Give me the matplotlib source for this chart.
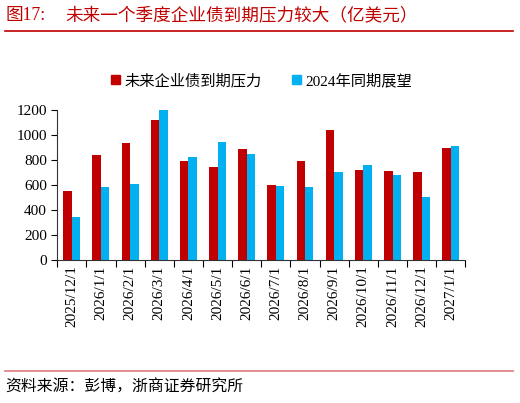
import matplotlib
matplotlib.use("Agg")
import matplotlib.pyplot as plt
from matplotlib.patches import Patch
from matplotlib.lines import Line2D
import numpy as np

plt.rcParams['font.family'] = ['Liberation Serif', 'Noto Sans CJK SC']

dates = ['2025/12/1', '2026/1/1', '2026/2/1', '2026/3/1', '2026/4/1', '2026/5/1',
         '2026/6/1', '2026/7/1', '2026/8/1', '2026/9/1', '2026/10/1', '2026/11/1',
         '2026/12/1', '2027/1/1']
future_due = [553, 842, 936, 1120, 791, 743, 885, 599, 794, 1040, 719, 714, 706, 898]
outlook_2024 = [342, 585, 610, 1203, 823, 944, 850, 591, 580, 706, 759, 682, 503, 909]

red = '#C00000'
blue = '#00B0F0'

fig = plt.figure(figsize=(5.2, 4.03), dpi=100)
ax = fig.add_axes([0.11, 0.355, 0.785, 0.372])

x = np.arange(len(dates))
w = 0.29
ax.bar(x - w / 2, future_due, w, color=red)
ax.bar(x + w / 2, outlook_2024, w, color=blue)

ax.set_xlim(-0.5, len(dates) - 0.5)
ax.set_ylim(0, 1200)
ax.set_yticks(range(0, 1201, 200))
ax.set_xticks(x)
ax.set_xticklabels(dates, rotation=90, fontsize=11)
ax.set_xticks(np.arange(-0.5, len(dates), 1), minor=True)
ax.tick_params(axis='x', which='major', length=0, pad=4)
ax.tick_params(axis='x', which='minor', length=5, width=0.8)
ax.tick_params(axis='y', labelsize=11, length=4, width=0.8)
for s in ['top', 'right']:
    ax.spines[s].set_visible(False)
ax.spines['left'].set_color('#333333')
ax.spines['bottom'].set_color('#333333')

handles = [Patch(color=red), Patch(color=blue)]
fig.legend(handles, ['未来企业债到期压力', '2024年同期展望'], loc='center',
           bbox_to_anchor=(0.503, 0.80), ncol=2, frameon=False, fontsize=11,
           handlelength=0.6, handleheight=0.6, handletextpad=0.3, columnspacing=2.0)

fig.text(0.01, 0.962, '图17:', color=red, fontsize=12.7, va='center', ha='left')
fig.text(0.125, 0.962, '未来一个季度企业债到期压力较大（亿美元）', color=red,
         fontsize=12.7, va='center', ha='left')
fig.add_artist(Line2D([0.01, 0.987], [0.923, 0.923], color=red, lw=1.2))
fig.add_artist(Line2D([0.01, 0.987], [0.079, 0.079], color='#E07A7A', lw=1.2))
fig.text(0.01, 0.038, '资料来源：彭博，浙商证券研究所', fontsize=11.4, va='center', ha='left')

fig.savefig('out.png', dpi=100)
